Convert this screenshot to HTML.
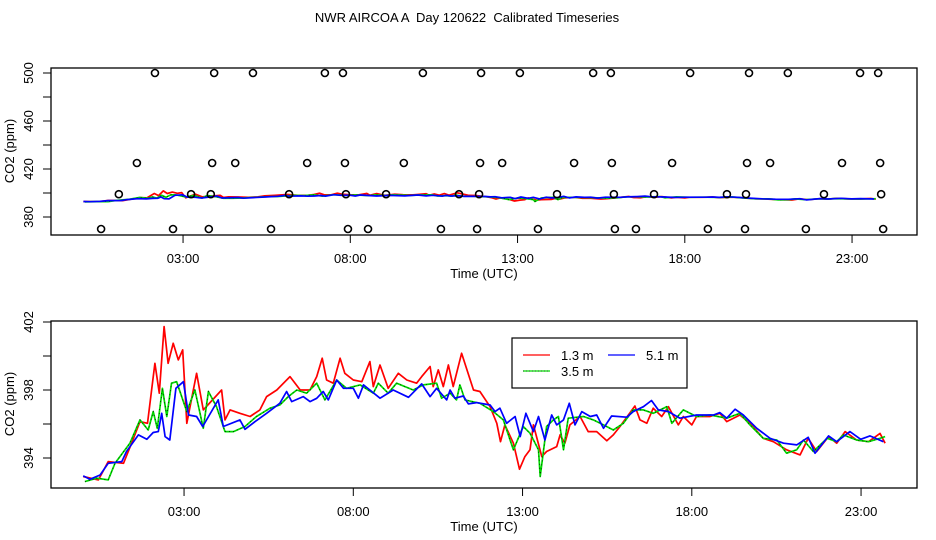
<!DOCTYPE html>
<html><head><meta charset="utf-8"><style>
body{margin:0;background:#fff}
svg{display:block;font-family:"Liberation Sans",sans-serif}
svg text{white-space:pre}
</style></head><body>
<svg id="c" width="936" height="540" viewBox="0 0 936 540"></svg>
<script>
const redT=[0.02,0.47,0.76,1.21,1.45,1.70,1.92,2.14,2.27,2.41,2.53,2.68,2.83,2.96,3.08,3.37,3.57,4.11,4.21,4.36,4.65,4.95,5.24,5.44,5.74,6.13,6.43,6.72,6.92,7.08,7.21,7.41,7.61,7.75,8.00,8.25,8.49,8.59,8.79,9.03,9.33,9.58,9.87,10.02,10.27,10.36,10.51,10.66,10.81,10.95,11.20,11.55,11.74,12.04,12.24,12.35,12.48,12.73,12.91,13.07,13.22,13.32,13.57,13.71,14.01,14.11,14.25,14.40,14.70,14.94,15.19,15.49,15.68,15.88,16.32,16.47,16.67,16.86,17.11,17.31,17.60,17.75,18.00,18.14,18.54,18.83,19.03,19.42,19.72,20.11,20.41,20.80,21.20,21.44,21.69,22.04,22.28,22.53,22.87,23.22,23.56,23.71];
const redV=[392.91,392.71,393.79,393.69,394.87,396.14,396.04,399.57,397.81,401.73,399.57,400.75,399.77,400.36,396.04,398.98,396.83,398.00,396.24,396.83,396.63,396.44,396.83,397.61,398.00,398.79,398.00,398.00,398.79,399.87,398.59,398.40,399.87,398.98,398.59,398.49,399.67,398.20,399.47,398.10,398.98,398.59,398.40,398.79,399.38,398.20,399.18,398.20,399.47,398.20,400.16,398.00,397.91,397.02,396.04,394.96,395.95,394.87,393.34,394.08,394.48,395.95,394.08,394.38,394.67,395.36,394.87,395.95,396.44,395.55,395.55,395.02,395.36,395.85,397.06,396.24,396.04,396.93,396.44,397.02,395.95,396.44,395.95,396.44,396.44,396.63,396.14,396.53,396.04,395.16,394.96,394.48,394.18,395.16,394.38,395.26,394.87,395.55,395.06,394.96,395.45,394.87];
const greenT=[0.07,0.42,0.76,0.96,1.40,1.70,1.94,2.09,2.21,2.36,2.49,2.63,2.78,3.08,3.32,3.57,3.72,3.96,4.21,4.46,4.80,5.14,5.54,5.83,6.08,6.33,6.62,6.92,7.16,7.51,7.80,8.20,8.59,8.74,9.03,9.28,9.77,10.07,10.46,10.61,10.86,11.05,11.15,11.30,11.74,12.14,12.43,12.73,13.02,13.22,13.47,13.52,13.71,13.91,14.06,14.21,14.35,14.80,15.09,15.39,15.68,15.98,16.27,16.57,16.86,17.26,17.41,17.75,18.14,18.54,19.03,19.42,19.72,20.11,20.51,20.80,21.10,21.30,21.59,22.00,22.28,22.48,22.87,23.22,23.56,23.71];
const greenV=[392.61,392.81,392.71,393.69,394.87,396.24,395.65,396.73,395.75,398.10,396.44,398.40,398.49,396.73,398.00,395.75,397.91,397.02,395.55,395.55,395.85,396.44,396.93,397.12,397.61,398.00,397.81,398.40,397.42,398.59,398.10,398.30,397.81,398.40,397.81,398.40,398.00,398.30,398.40,397.52,397.81,397.42,398.30,397.42,397.22,396.73,396.24,394.48,395.85,395.46,394.48,392.91,395.85,396.24,396.44,394.48,396.34,396.44,396.24,395.95,395.65,396.04,396.83,396.83,396.63,397.02,396.04,396.83,396.44,396.53,396.34,396.63,395.95,395.16,395.06,394.28,394.48,395.06,394.38,395.16,394.96,395.36,395.06,394.96,395.16,395.26];
const blueT=[0.02,0.22,0.52,0.76,1.16,1.30,1.65,1.90,2.09,2.24,2.34,2.44,2.58,2.76,2.98,3.13,3.37,3.55,4.01,4.16,4.65,4.80,5.10,5.44,5.83,6.03,6.18,6.52,6.72,6.92,7.11,7.26,7.51,7.71,8.00,8.15,8.30,8.79,9.18,9.63,10.02,10.27,10.46,10.76,10.86,11.00,11.25,11.40,11.64,12.04,12.19,12.33,12.53,12.78,12.93,13.10,13.32,13.47,13.66,13.86,14.01,14.21,14.38,14.55,14.75,15.00,15.19,15.39,15.63,16.08,16.27,16.57,16.81,17.01,17.31,17.65,18.14,18.64,18.83,19.03,19.28,19.52,19.92,20.31,20.71,21.10,21.44,21.64,22.04,22.28,22.67,22.99,23.26,23.66];
const blueV=[392.95,392.75,393.00,393.69,393.79,394.38,395.36,395.10,395.50,395.55,396.63,395.26,395.06,398.10,398.49,396.53,396.44,395.85,397.42,395.85,396.24,395.69,396.14,396.63,397.22,397.91,397.32,397.61,397.32,397.51,397.91,397.42,398.59,398.10,398.10,397.52,398.30,397.52,398.00,397.57,398.36,397.61,398.10,397.42,398.00,397.52,397.65,397.18,397.26,397.12,396.73,396.93,396.04,396.44,395.26,396.63,395.55,396.44,395.06,396.53,395.95,396.24,397.22,395.95,396.73,396.44,396.53,395.75,396.47,396.40,396.73,397.02,397.38,396.83,396.73,396.34,396.53,396.53,396.67,396.34,396.87,396.53,395.75,395.16,394.87,394.77,395.22,394.28,395.30,394.96,395.55,395.10,395.30,394.96];
const row500=[2.16,3.93,5.09,7.24,7.78,10.17,11.91,13.07,15.26,15.79,18.16,19.92,21.08,23.24,23.78];
const row425=[1.62,3.87,4.56,6.71,7.84,9.60,11.88,12.54,14.69,15.82,17.62,19.86,20.55,22.70,23.84];
const row399=[1.08,3.24,3.83,6.17,7.87,9.07,11.25,11.85,14.18,15.88,17.08,19.26,19.83,22.16,23.87];
const row370=[0.55,2.70,3.77,5.63,7.93,8.53,10.71,11.79,13.61,15.91,16.54,18.69,19.80,21.62,23.93];
const xTickHours=[3,8,13,18,23];
const xTickLabels=["03:00","08:00","13:00","18:00","23:00"];
const topTicks=[380,400,420,440,460,480,500];
const topLabels=["380","420","460","500"];
const botTicks=[394,396,398,400,402];
const botLabels=["394","398","402"];

const S='http://www.w3.org/2000/svg', svg=document.getElementById('c');
function mk(t,a,p){const e=document.createElementNS(S,t);for(const k in a)e.setAttribute(k,a[k]);(p||svg).appendChild(e);return e;}
const txTop=h=>82.7+33.45*h, tyTop=v=>217-(v-380)*1.2;
const txBot=h=>82.5+33.85*h, tyBot=v=>322+(402-v)*17;

let t=mk('text',{x:467,y:22,'text-anchor':'middle','font-size':13});t.textContent='NWR AIRCOA A  Day 120622  Calibrated Timeseries';



function panel(name,y0,y1,tx,ty,yt,yl,labelY){
  const g=mk('g',{});
  
  
  const box=mk('rect',{x:51,y:y0,width:866,height:y1-y0,fill:'none',stroke:'#000','stroke-width':1.3},g);
  
  
  yt.forEach(v=>{mk('line',{x1:43,x2:51,y1:ty(v),y2:ty(v),stroke:'#000'},g);});
  yl.forEach(s=>{const y=ty(+s);const e=mk('text',{x:33,y:y,'text-anchor':'middle','font-size':13,transform:`rotate(-90 33 ${y})`},g);e.textContent=s;
    
    });
  xTickHours.forEach((h,i)=>{const x=tx(h);mk('line',{x1:x,x2:x,y1:y1,y2:y1+8,stroke:'#000'},g);
    const e=mk('text',{x:x,y:y1+28,'text-anchor':'middle','font-size':13},g);e.textContent=xTickLabels[i];
    
    });
  const xl=mk('text',{x:484,y:y1+43,'text-anchor':'middle','font-size':13},g);xl.textContent='Time (UTC)';
  
  
  const yl2=mk('text',{x:14,y:labelY,'text-anchor':'middle','font-size':13,transform:`rotate(-90 14 ${labelY})`},g);yl2.textContent='CO2 (ppm)';
  
  
  const series=[[redT,redV,'#f00','series-1-3m'],[greenT,greenV,'#0d0','series-3-5m'],[blueT,blueV,'#00f','series-5-1m']];
  series.forEach(([T,V,c,n])=>{
    const d=T.map((h,i)=>(i?'L':'M')+tx(h).toFixed(1)+','+ty(V[i]).toFixed(1)).join('');
    const p=mk('path',{d:d,fill:'none',stroke:c,'stroke-width':1.7,'stroke-linejoin':'round'},g);
    
    
    if(c==='#0d0'){const q=mk('path',{d:d,fill:'none',stroke:'#000','stroke-width':0.7,'stroke-dasharray':'1 3'},g);
      
      }
  });
  return g;
}
panel('top-panel',68,235,txTop,tyTop,topTicks,topLabels,151);
panel('bottom-panel',321,488,txBot,tyBot,botTicks,botLabels,404);

[[row500,500],[row425,425],[row399,399],[row370,370]].forEach(([hs,v])=>{
  hs.forEach(h=>{const c=mk('circle',{cx:txTop(h),cy:tyTop(v),r:3.5,fill:'none',stroke:'#000','stroke-width':1.6});
    
    });
});

const lg=mk('g',{});


mk('rect',{x:512,y:338,width:175,height:50,fill:'#fff',stroke:'#000','stroke-width':1.2},lg);
[[523,355,'#f00','1.3 m'],[608,355,'#00f','5.1 m'],[523,371,'#0d0','3.5 m']].forEach(([x,y,c,s])=>{
  const e=mk('g',{},lg);
  
  
  mk('line',{x1:x,x2:x+27,y1:y,y2:y,stroke:c,'stroke-width':1.2},e);
  if(c==='#0d0')mk('line',{x1:x,x2:x+27,y1:y,y2:y,stroke:'#000','stroke-width':0.6,'stroke-dasharray':'1 2'},e);
  const tt=mk('text',{x:x+38,y:y+5,'font-size':13},e);tt.textContent=s;
});
</script>
</body></html>
